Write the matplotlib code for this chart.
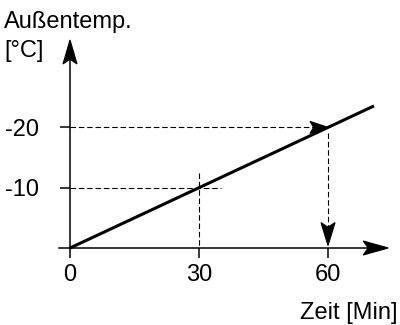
import numpy as np
import matplotlib
matplotlib.use('Agg')
import matplotlib.pyplot as plt
from matplotlib.patches import Polygon
from matplotlib.transforms import IdentityTransform

plt.rcParams['font.family'] = ['Liberation Sans', 'DejaVu Sans']

# Temperaturverlauf: Zeit [Min] gegen Außentemperatur [°C]
zeit = [0, 70.7]
temp = [0, -70.7 / 3]

x_ticks = [0, 30, 60]
y_ticks = [-10, -20]
y_labels = ['-10', '-20']

# Ablesepunkte (gestrichelte Hilfslinien)
ablesen_zeit = [30, 60]
ablesen_temp = [-10, -20]

fig = plt.figure(figsize=(4, 3.25), dpi=100)
ax = fig.add_axes([0, 0, 1, 1])
ax.set_xlim(-16.28, 76.74)
ax.set_ylim(12.77, -41.13)

for s in ['top', 'right', 'left', 'bottom']:
    ax.spines[s].set_visible(False)
ax.spines['left'].set_position(('data', 0))
ax.spines['bottom'].set_position(('data', 0))

ax.set_xticks(x_ticks)
ax.set_yticks(y_ticks)
ax.set_yticklabels(y_labels)
ax.tick_params(axis='both', direction='out', length=7.2, width=1.1,
               labelsize=17)
ax.tick_params(axis='x', pad=4)
ax.tick_params(axis='y', pad=15)


def pfeilspitze(tip, richtung, laenge, breite):
    # spitze Pfeilspitze mit eingezogenem Ende, Maße in Pixeln
    tx, ty = ax.transData.transform(tip)
    dx, dy = ax.transData.transform(np.add(tip, richtung)) - (tx, ty)
    n = np.hypot(dx, dy)
    ux, uy = dx / n, dy / n
    px, py = -uy, ux
    pts = [
        (tx, ty),
        (tx - laenge * ux + breite / 2 * px, ty - laenge * uy + breite / 2 * py),
        (tx - 0.8 * laenge * ux, ty - 0.8 * laenge * uy),
        (tx - laenge * ux - breite / 2 * px, ty - laenge * uy - breite / 2 * py),
    ]
    ax.add_patch(Polygon(pts, closed=True, facecolor='black', edgecolor='black',
                         lw=0.8, transform=IdentityTransform(), zorder=5))


# Achsen mit Pfeilen
ax.plot([-2.5, 72], [0, 0], color='black', lw=1.1)
ax.plot([0, 0], [0, -32], color='black', lw=1.1)
pfeilspitze((74, 0), (1, 0), 25, 14)
pfeilspitze((0, -34.5), (0, -1), 24, 14)

# Kennlinie
ax.plot(zeit, temp, color='black', lw=2.2, solid_capstyle='butt')

dash = dict(color='black', lw=0.8, linestyle=(0, (5, 2.5)))

# Ablesung bei -10 °C
ax.plot([0, 35], [ablesen_temp[0]] * 2, **dash)
ax.plot([ablesen_zeit[0]] * 2, [-12.4, 0], **dash)

# Ablesung bei -20 °C mit Pfeilen
ax.plot([0, ablesen_zeit[1] - 3], [ablesen_temp[1]] * 2, **dash)
pfeilspitze((ablesen_zeit[1], ablesen_temp[1]), (1, 0), 18, 12)
ax.plot([ablesen_zeit[1]] * 2, [-19.1, -3], **dash)
pfeilspitze((ablesen_zeit[1], -0.4), (0, 1), 23, 14)

fig.text(0.01, 0.914, 'Außentemp.', fontsize=17, va='baseline')
fig.text(0.01, 0.825, '[°C]', fontsize=17, va='baseline')
fig.text(0.9925, 0.018, 'Zeit [Min]', fontsize=17, ha='right', va='baseline')

fig.savefig('out.png', dpi=100)
